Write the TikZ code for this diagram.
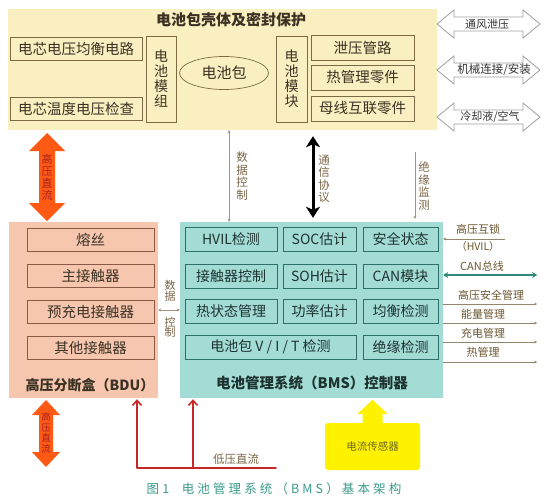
\documentclass[tikz,border=0pt]{standalone}
\usepackage{fontspec}
\setmainfont{Noto Sans CJK SC}
\usetikzlibrary{arrows.meta,shapes.geometric}
\definecolor{packfill}{HTML}{F9EFC0}
\definecolor{bdufill}{HTML}{F7C6AE}
\definecolor{bmsfill}{HTML}{A3DCD5}
\definecolor{ybord}{HTML}{7D6A45}
\definecolor{bdubord}{HTML}{8B5A45}
\definecolor{bmsbord}{HTML}{2E6E68}
\definecolor{txt}{HTML}{3B3224}
\definecolor{bmstxt}{HTML}{1E3330}
\definecolor{orangearr}{HTML}{FF5A14}
\definecolor{redline}{HTML}{C62828}
\definecolor{lbl}{HTML}{7A6648}
\definecolor{rlbl}{HTML}{6B5530}
\definecolor{captxt}{HTML}{3C9A8C}
\definecolor{canteal}{HTML}{2E8A78}
\definecolor{sensor}{HTML}{FFF200}
\newcommand\myfs[1]{\fontsize{#1}{#1}\selectfont}
\newcommand\dblarrH[7]{\path[#1] (#2,#4) -- ({#2+#7},{#4-#6}) -- ({#2+#7},{#4-#5}) -- ({#3-#7},{#4-#5}) -- ({#3-#7},{#4-#6}) -- (#3,#4) -- ({#3-#7},{#4+#6}) -- ({#3-#7},{#4+#5}) -- ({#2+#7},{#4+#5}) -- ({#2+#7},{#4+#6}) -- cycle;}
\newcommand\dblarrV[7]{\path[#1] (#4,#2) -- ({#4-#6},{#2+#7}) -- ({#4-#5},{#2+#7}) -- ({#4-#5},{#3-#7}) -- ({#4-#6},{#3-#7}) -- (#4,#3) -- ({#4+#6},{#3-#7}) -- ({#4+#5},{#3-#7}) -- ({#4+#5},{#2+#7}) -- ({#4+#6},{#2+#7}) -- cycle;}
\begin{document}
\begin{tikzpicture}[x=1pt,y=-1pt,
  ybox/.style={draw=ybord,line width=0.9pt,rectangle,inner sep=0pt,text=txt,font=\myfs{14.5}},
  dbox/.style={draw=bdubord,line width=0.9pt,rectangle,inner sep=0pt,text=txt,font=\myfs{14.5},minimum width=127pt,minimum height=23pt},
  bbox/.style={draw=bmsbord,line width=1pt,rectangle,inner sep=0pt,text=bmstxt,font=\myfs{14},minimum height=24pt},
  vlbl/.style={align=center,inner sep=0pt,font=\fontsize{11.5}{12.5}\selectfont,text=lbl},
  rlabel/.style={inner sep=0pt,font=\myfs{11},text=rlbl},
  rline/.style={draw=lbl!80,line width=0.6pt,-{Stealth[length=3pt,width=3pt]}},
  thinarr/.style={draw=lbl!70,line width=0.5pt},
  redarr/.style={draw=redline,line width=1.6pt,-{Straight Barb[length=5pt,width=9pt]}}
]
\useasboundingbox (0,0) rectangle (556,500);
\fill[white] (0,0) rectangle (556,500);

% ---------- battery pack enclosure ----------
\node[fill=packfill,rectangle,minimum width=429pt,minimum height=121pt,inner sep=0pt] (pack) at (222.5,69.5) {};
\node[inner sep=0pt,text=txt,font=\myfs{15}\bfseries] (packt) at (231,20) {电池包壳体及密封保护};
\node[ybox,minimum width=132pt,minimum height=23pt] (v1) at (76,48.5) {电芯电压均衡电路};
\node[ybox,minimum width=132pt,minimum height=23pt] (v2) at (76,108.5) {电芯温度电压检查};
\node[ybox,minimum width=30pt,minimum height=86pt,align=center,font=\fontsize{14}{15}\selectfont] (m1) at (161,79) {电\\池\\模\\组};
\node[ellipse,draw=ybord,line width=0.7pt,minimum width=89pt,minimum height=33pt,inner sep=0pt,text=txt,font=\myfs{15}] (cell) at (224,73) {电池包};
\node[ybox,minimum width=31pt,minimum height=86pt,align=center,font=\fontsize{14}{15}\selectfont] (m2) at (291.5,79) {电\\池\\模\\块};
\node[ybox,minimum width=103pt,minimum height=25pt] (r1) at (362.5,47.5) {泄压管路};
\node[ybox,minimum width=103pt,minimum height=25pt] (r2) at (362.5,77.5) {热管理零件};
\node[ybox,minimum width=103pt,minimum height=25pt] (r3) at (362.5,108.5) {母线互联零件};

% ---------- right outlined arrows ----------
\dblarrH{draw=gray!75,fill=white,line width=0.8pt}{437}{540}{24}{7}{14}{17}
\dblarrH{draw=gray!75,fill=white,line width=0.8pt}{437}{540}{70}{7}{14}{17}
\dblarrH{draw=gray!75,fill=white,line width=0.8pt}{437}{540}{117}{7}{14}{17}
\node[inner sep=0pt,font=\myfs{11},text=gray!40!black] (a1) at (487,24) {通风泄压};
\node[inner sep=0pt,font=\myfs{11.5},text=gray!40!black] (a2) at (494,70) {机械连接/安装};
\node[inner sep=0pt,font=\myfs{11},text=gray!40!black] (a3) at (490,117) {冷却液/空气};

% ---------- BDU ----------
\node[fill=bdufill,rectangle,minimum width=149pt,minimum height=176pt,inner sep=0pt] (bdu) at (83.5,310) {};
\node[dbox] (d1) at (90.5,239.5) {熔丝};
\node[dbox] (d2) at (90.5,276) {主接触器};
\node[dbox] (d3) at (90.5,311.5) {预充电接触器};
\node[dbox] (d4) at (90.5,348) {其他接触器};
\node[inner sep=0pt,text=txt,font=\myfs{14}\bfseries] (bdut) at (90,385) {高压分断盒（BDU）};

% ---------- BMS ----------
\node[fill=bmsfill,rectangle,minimum width=263pt,minimum height=176pt,inner sep=0pt] (bms) at (311.5,310) {};
\node[bbox,minimum width=92pt] (b11) at (231,239) {HVIL检测};
\node[bbox,minimum width=73pt] (b12) at (319.5,239) {SOC估计};
\node[bbox,minimum width=75pt] (b13) at (400.5,239) {安全状态};
\node[bbox,minimum width=92pt] (b21) at (231,276) {接触器控制};
\node[bbox,minimum width=73pt] (b22) at (319.5,276) {SOH估计};
\node[bbox,minimum width=75pt] (b23) at (400.5,276) {CAN模块};
\node[bbox,minimum width=92pt] (b31) at (231,311.5) {热状态管理};
\node[bbox,minimum width=73pt] (b32) at (319.5,311.5) {功率估计};
\node[bbox,minimum width=75pt] (b33) at (400.5,311.5) {均衡检测};
\node[bbox,minimum width=171pt] (b41) at (270.5,347) {电池包 V / I / T 检测};
\node[bbox,minimum width=75pt] (b43) at (400.5,347) {绝缘检测};
\node[inner sep=0pt,text=bmstxt,font=\myfs{14.5}\bfseries] (bmst) at (312,383) {电池管理系统（BMS）控制器};

% ---------- connectors pack <-> BDU / BMS ----------
\dblarrV{fill=orangearr}{133}{221}{47}{8}{18}{18}
\node[align=center,inner sep=0pt,font=\fontsize{11}{12}\selectfont,text=redline!85!black] (hv1) at (47,177) {高\\压\\直\\流};

\coordinate (dcx) at (229,0);
\draw[thinarr,{Stealth[length=3pt,width=3pt]}-{Stealth[length=3pt,width=3pt]}] (pack.south -| dcx) -- (bms.north -| dcx);
\node[vlbl] (dc1) at (242,176) {数\\据\\控\\制};

\coordinate (bkx) at (313,0);
\draw[line width=3pt,{Stealth[length=11pt,width=14pt,inset=3pt]}-{Stealth[length=11pt,width=14pt,inset=3pt]}] ([yshift=-6pt]pack.south -| bkx) -- ([yshift=4pt]bms.north -| bkx);
\node[vlbl] (tx) at (324,179) {通\\信\\协\\议};

\coordinate (jyx) at (415,0);
\draw[thinarr,-{Stealth[length=3pt,width=3pt]}] ([yshift=-22pt]pack.south -| jyx) -- ([yshift=3pt]bms.north -| jyx);
\node[vlbl] (jy) at (424,186) {绝\\缘\\监\\测};

% ---------- BDU <-> BMS ----------
\draw[thinarr,{Stealth[length=3pt,width=3pt]}-{Stealth[length=3pt,width=3pt]}] (bdu.east |- 0,310) -- (bms.west |- 0,310);
\node[vlbl,font=\fontsize{11}{10}\selectfont] (dd1) at (170,291) {数\\据};
\node[vlbl,font=\fontsize{11}{10}\selectfont] (dd2) at (170,327) {控\\制};

% ---------- right side lines ----------
\draw[rline] ([yshift=71pt]bms.east) ++(62,0) -- ([yshift=71pt]bms.east);
\node[rlabel] (hvil1) at (478,229) {高压互锁};
\node[rlabel,font=\myfs{10.5}] (hvil2) at (478,247) {（HVIL）};
\draw[draw=canteal,line width=1.8pt,{Stealth[length=5pt,width=6pt]}-{Stealth[length=5pt,width=6pt]}] ([yshift=35pt]bms.east) -- ++(94,0);
\node[rlabel] (can) at (482,266) {CAN总线};
\draw[rline] ([yshift=6pt]bms.east) -- ++(94,0);
\node[rlabel] (l1) at (491,295) {高压安全管理};
\draw[rline] ([yshift=-13pt]bms.east) -- ++(94,0);
\node[rlabel] (l2) at (483,314) {能量管理};
\draw[rline] ([yshift=-32pt]bms.east) -- ++(94,0);
\node[rlabel] (l3) at (483,333) {充电管理};
\draw[rline] ([yshift=-52pt]bms.east) -- ++(94,0);
\node[rlabel] (l4) at (483,352) {热管理};

% ---------- bottom ----------
\dblarrV{fill=orangearr}{400}{467}{46}{7}{14}{15}
\node[align=center,inner sep=0pt,font=\fontsize{9.5}{10.5}\selectfont,text=redline!85!black] (hv2) at (46,433) {高\\压\\直\\流};

\coordinate (rl1) at (137,468);
\coordinate (rl2) at (193,468);
\coordinate (rr) at (276,468);
\draw[draw=redline,line width=1.6pt,line cap=round] (rl1) -- (rr);
\draw[redarr] (rl1) -- ([yshift=-1pt]rl1 |- bdu.south);
\draw[redarr] (rl2) -- ([yshift=-1pt]rl2 |- bms.south);
\node[inner sep=0pt,font=\myfs{11.5},text=lbl] (ldc) at (236,459) {低压直流};

\node[fill=sensor,rounded corners=3pt,minimum width=95pt,minimum height=47pt,inner sep=0pt,text=olive!70!black,font=\myfs{10.5}] (sens) at (372.5,446.5) {电流传感器};
\fill[sensor] ([xshift=-10pt]sens.north) -- ([xshift=-10pt,yshift=9pt]sens.north) -- ([xshift=-15pt,yshift=9pt]sens.north) -- ([yshift=23pt]sens.north) -- ([xshift=15pt,yshift=9pt]sens.north) -- ([xshift=10pt,yshift=9pt]sens.north) -- ([xshift=10pt]sens.north) -- cycle;

\node[inner sep=0pt,font=\myfs{12.5},text=captxt] (cap) at (274,489) {\addfontfeatures{LetterSpace=25}图1\hspace{1em}电池管理系统（BMS）基本架构};
\end{tikzpicture}
\end{document}
